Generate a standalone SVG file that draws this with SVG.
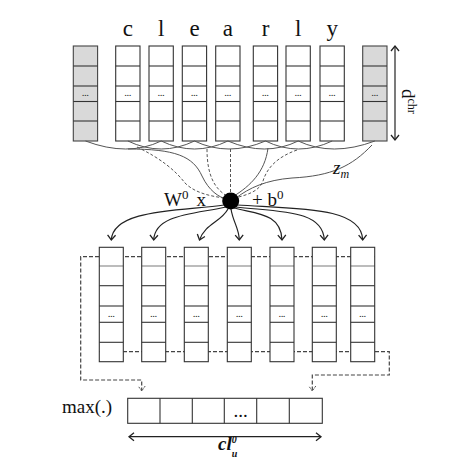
<svg xmlns="http://www.w3.org/2000/svg" width="460" height="475" viewBox="0 0 460 475">
<style>
.cell{fill:#fff;stroke:#333;stroke-width:1.1}
.pad{fill:#d9d9d9;stroke:#444;stroke-width:1.1}
.div{stroke:#333;stroke-width:1.1}
.ln{fill:none;stroke:#555;stroke-width:1}
.dl{fill:none;stroke:#555;stroke-width:1;stroke-dasharray:3,2}
.dr{fill:none;stroke:#444;stroke-width:1.2;stroke-dasharray:4,2}
.ar{fill:none;stroke:#222;stroke-width:1.2}
.ell{font-family:"Liberation Sans",Arial,sans-serif;font-size:8px;font-weight:bold;fill:#333;text-anchor:middle}
.lt{font-family:"Liberation Serif","Times New Roman",serif;font-size:23px;fill:#111;text-anchor:middle}
.tx{font-family:"Liberation Serif","Times New Roman",serif;font-size:19px;fill:#111}
</style>
<defs>
<marker id="chev" markerUnits="userSpaceOnUse" markerWidth="12" markerHeight="12" viewBox="-7 -6 9 12" refX="0" refY="0" orient="auto-start-reverse">
<path d="M-5,-4 L0,0 L-5,4" fill="none" stroke="#222" stroke-width="1.3"/>
</marker>
<marker id="chevd" markerUnits="userSpaceOnUse" markerWidth="12" markerHeight="12" viewBox="-7 -6 9 12" refX="0" refY="0" orient="auto">
<path d="M-5,-3.5 L0,0 L-5,3.5" fill="none" stroke="#555" stroke-width="1" stroke-dasharray="2,1"/>
</marker>
<g id="topcol">
<rect class="cell" x="0" y="0" width="24.3" height="95"/>
<line class="div" x1="0" y1="20" x2="24.3" y2="20"/>
<line class="div" x1="0" y1="40" x2="24.3" y2="40"/>
<line class="div" x1="0" y1="55.5" x2="24.3" y2="55.5"/>
<line class="div" x1="0" y1="75" x2="24.3" y2="75"/>
<text class="ell" x="12.15" y="50">...</text>
</g>
<g id="padcol">
<rect class="pad" x="0" y="0" width="24.3" height="95"/>
<line class="div" x1="0" y1="20" x2="24.3" y2="20"/>
<line class="div" x1="0" y1="40" x2="24.3" y2="40"/>
<line class="div" x1="0" y1="55.5" x2="24.3" y2="55.5"/>
<line class="div" x1="0" y1="75" x2="24.3" y2="75"/>
<text class="ell" x="12.15" y="50">...</text>
</g>
<g id="outcol">
<rect class="cell" x="0" y="0" width="24" height="114.4"/>
<line class="div" x1="0" y1="18.7" x2="24" y2="18.7" stroke-opacity="0.6"/>
<line class="div" x1="0" y1="38.4" x2="24" y2="38.4"/>
<line class="div" x1="0" y1="58.7" x2="24" y2="58.7"/>
<line class="div" x1="0" y1="75" x2="24" y2="75"/>
<line class="div" x1="0" y1="95" x2="24" y2="95"/>
<text class="ell" x="12" y="70">...</text>
</g>
</defs>

<g id="input-columns">
<g id="pad-left"><use href="#padcol" x="73.3" y="46"/></g>
<g id="char-c"><use href="#topcol" x="115.7" y="46"/><text class="lt" x="127.8" y="36">c</text></g>
<g id="char-l1"><use href="#topcol" x="149" y="46"/><text class="lt" x="161.2" y="36">l</text></g>
<g id="char-e"><use href="#topcol" x="182.3" y="46"/><text class="lt" x="194.5" y="36">e</text></g>
<g id="char-a"><use href="#topcol" x="215.7" y="46"/><text class="lt" x="227.9" y="36">a</text></g>
<g id="char-r"><use href="#topcol" x="253.3" y="46"/><text class="lt" x="265.5" y="36">r</text></g>
<g id="char-l2"><use href="#topcol" x="286" y="46"/><text class="lt" x="298.2" y="36">l</text></g>
<g id="char-y"><use href="#topcol" x="320" y="46"/><text class="lt" x="332.2" y="36">y</text></g>
<g id="pad-right"><use href="#padcol" x="362.7" y="46"/></g>
</g>

<g id="dchr">
<line class="ar" x1="395" y1="46" x2="395" y2="140" stroke="#555" marker-start="url(#chev)" marker-end="url(#chev)"/>
<text class="tx" transform="translate(402,89) rotate(90)" font-size="19">d<tspan font-size="12" dy="-6">chr</tspan></text>
</g>

<g id="connectors">
<path class="ln" d="M85.5,141 Q128,157 161.2,141"/>
<path class="ln" d="M127.9,141 Q161.2,157 194.5,141"/>
<path class="ln" d="M161.2,141 Q194.5,157 227.9,141"/>
<path class="ln" d="M194.5,141 Q228,157 265.5,141"/>
<path class="ln" d="M227.9,141 Q265.5,157 298.2,141"/>
<path class="ln" d="M265.5,141 Q298.2,157 332.2,141"/>
<path class="ln" d="M298.2,141 Q332.2,157 374.9,141"/>
<path class="ln" d="M128,149 C175,149 193,156 202,176 C209,191 219,197 226,199"/>
<path class="dl" d="M137,147 C160,158 175,170 185,183 C195,193 210,196 224,198"/>
<path class="dl" d="M207,149 C207,176 215,189 227,196"/>
<path class="dl" d="M230.5,149 L230.5,193"/>
<path class="ln" d="M268,148 C265,172 250,186 234,196"/>
<path class="dl" d="M297,150 C277,157 267,168 263,181 C259,192 246,195 235,198"/>
<path class="ln" d="M372,145 C352,166 332,176 292,178 C266,180 249,188 236,198"/>
<path class="ar" d="M224,205 C180,211 113,209 111.3,240" marker-end="url(#chev)"/>
<path class="ar" d="M226,207 C195,214 155,214 153.7,240" marker-end="url(#chev)"/>
<path class="ar" d="M228,209 C221,222 205,224 199.5,240" marker-end="url(#chev)"/>
<path class="ar" d="M231,209 C233,222 239,228 239.3,240" marker-end="url(#chev)"/>
<path class="ar" d="M234,208 C256,214 281,213 282,240" marker-end="url(#chev)"/>
<path class="ar" d="M236,207 C281,212 323,210 324.3,240" marker-end="url(#chev)"/>
<path class="ar" d="M237,205 C301,209 362,207 362.7,240" marker-end="url(#chev)"/>
<path class="dr" d="M375,256.7 H80.7 V380 H141.7 V391" marker-end="url(#chevd)"/>
<path class="dr" d="M99,351.7 H389.3 V375 H312.3 V391" marker-end="url(#chevd)"/>
<line class="ar" x1="129" y1="436.7" x2="321" y2="436.7" stroke="#555" marker-start="url(#chev)" marker-end="url(#chev)"/>
</g>

<g id="conv-node">
<circle cx="230.7" cy="201" r="8.5" fill="#000"/>
<text class="tx" x="164" y="206">W<tspan font-size="13" dy="-7">0</tspan><tspan dy="7" dx="8">x</tspan></text>
<text class="tx" x="252" y="206">+ b<tspan font-size="13" dy="-7">0</tspan></text>
<text class="tx" x="333" y="174" font-style="italic" font-size="20">z<tspan font-size="12" dy="4">m</tspan></text>
</g>

<g id="output-columns">
<use href="#outcol" x="99.3" y="247.3"/>
<use href="#outcol" x="141.7" y="247.3"/>
<use href="#outcol" x="184.3" y="247.3"/>
<use href="#outcol" x="227.3" y="247.3"/>
<use href="#outcol" x="270" y="247.3"/>
<use href="#outcol" x="312.3" y="247.3"/>
<use href="#outcol" x="350.7" y="247.3"/>
</g>

<g id="max-vector">
<text class="tx" x="62" y="413" font-size="17">max(.)</text>
<rect class="cell" x="127.7" y="398.3" width="194.6" height="25"/>
<line class="div" x1="160" y1="398.3" x2="160" y2="423.3"/>
<line class="div" x1="192.3" y1="398.3" x2="192.3" y2="423.3"/>
<line class="div" x1="224.3" y1="398.3" x2="224.3" y2="423.3"/>
<line class="div" x1="256.7" y1="398.3" x2="256.7" y2="423.3"/>
<line class="div" x1="289.3" y1="398.3" x2="289.3" y2="423.3"/>
<text class="tx" x="240.5" y="417" font-size="9" fill="#777" text-anchor="middle">...</text>
<text class="tx" x="218" y="450" font-size="16" font-style="italic" font-weight="bold">cl<tspan font-size="10" dy="-7">0</tspan><tspan font-size="10" dx="-5" dy="14">u</tspan></text>
</g>
</svg>
